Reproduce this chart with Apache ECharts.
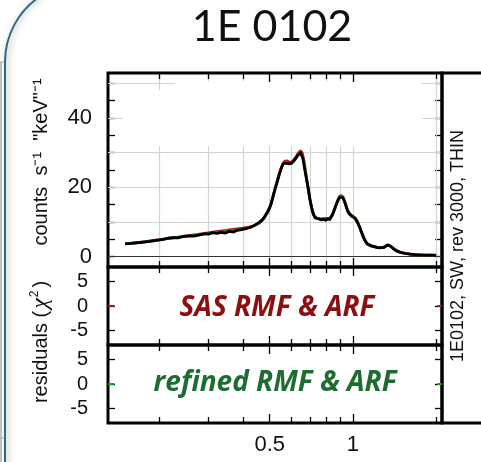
<!DOCTYPE html>
<html>
<head>
<meta charset="utf-8">
<script src="https://cdn.jsdelivr.net/npm/echarts@6/dist/echarts.min.js"></script>
<style>
  html, body { margin: 0; padding: 0; background: #fff; }
  #chart { width: 481px; height: 462px; }
</style>
</head>
<body>
<div id="chart"></div>
<script>
// Observed spectrum of 1E 0102 (counts s^-1 keV^-1 vs energy in keV)
const energy = [
  0.150, 0.158, 0.166, 0.175, 0.184, 0.194, 0.204, 0.214, 0.223, 0.233,
  0.243, 0.255, 0.266, 0.279, 0.292, 0.300, 0.310, 0.322, 0.334, 0.346,
  0.358, 0.370, 0.382, 0.395, 0.410, 0.425, 0.440, 0.452, 0.463, 0.474,
  0.485, 0.495, 0.505, 0.514, 0.523, 0.533, 0.542, 0.551, 0.559, 0.566,
  0.572, 0.578, 0.585, 0.592, 0.600, 0.607, 0.615, 0.623, 0.631, 0.639,
  0.646, 0.652, 0.658, 0.664, 0.670, 0.679, 0.689, 0.699, 0.709, 0.719,
  0.730, 0.742, 0.755, 0.768, 0.782, 0.796, 0.810, 0.824, 0.838, 0.852,
  0.866, 0.880, 0.895, 0.908, 0.920, 0.932, 0.944, 0.956, 0.968, 0.980,
  0.992, 1.004, 1.017, 1.030, 1.043, 1.056, 1.070, 1.085, 1.100, 1.115,
  1.131, 1.148, 1.166, 1.185, 1.205, 1.226, 1.248, 1.270, 1.292, 1.313,
  1.332, 1.350, 1.368, 1.388, 1.410, 1.440, 1.475, 1.515, 1.560, 1.610,
  1.670, 1.740, 1.820, 1.910, 2.000
];
const counts = [
  3.7, 3.8, 4.0, 4.2, 4.4, 4.7, 4.9, 5.3, 5.5, 5.4,
  5.8, 6.0, 5.9, 6.3, 6.6, 6.5, 6.9, 6.7, 7.0, 6.8,
  7.3, 7.1, 7.6, 7.8, 8.1, 8.4, 9.0, 9.6, 10.2, 10.9,
  12.2, 13.4, 15.0, 17.3, 19.5, 21.7, 23.8, 25.6, 26.8, 27.3,
  27.0, 27.5, 26.8, 26.7, 26.9, 27.3, 27.9, 28.4, 29.2, 29.6,
  29.9, 29.5, 28.6, 26.8, 24.9, 22.5, 19.8, 16.5, 14.1, 12.2,
  11.2, 10.8, 10.9, 10.6, 10.8, 10.5, 10.9, 10.7, 11.6, 13.0,
  14.6, 16.0, 17.2, 17.6, 17.0, 15.9, 14.5, 13.2, 12.4, 12.2,
  11.6, 11.5, 11.1, 10.6, 9.5, 8.6, 7.4, 6.2, 5.1, 4.2,
  3.6, 3.3, 3.1, 2.9, 2.8, 2.6, 2.5, 2.6, 2.6, 2.9,
  3.3, 3.4, 3.0, 2.5, 2.1, 1.6, 1.3, 1.05, 0.85, 0.7,
  0.58, 0.5, 0.45, 0.42, 0.38
];

// Folded models: SAS response files and refined response files
const modelEnergy = [
  0.150, 0.175, 0.200, 0.225, 0.250, 0.275, 0.300, 0.325, 0.350, 0.375,
  0.400, 0.425, 0.450, 0.470, 0.490, 0.505, 0.520, 0.535, 0.550, 0.565,
  0.578, 0.592, 0.606, 0.620, 0.634, 0.646, 0.656, 0.666, 0.680, 0.695,
  0.710, 0.725, 0.745, 0.770, 0.800, 0.825, 0.845, 0.865, 0.885, 0.905,
  0.920, 0.940, 0.960, 0.985, 1.010, 1.035, 1.060, 1.090, 1.120, 1.150,
  1.200, 1.250, 1.300, 1.340, 1.370, 1.410, 1.470, 1.550, 1.650, 1.800,
  2.000
];
const modelSAS = [
  3.75, 4.25, 4.9, 5.5, 5.95, 6.4, 6.85, 7.25, 7.6, 7.95,
  8.25, 8.6, 9.3, 10.5, 12.6, 15.2, 19.0, 22.6, 25.6, 27.4,
  27.6, 27.2, 27.6, 28.6, 29.8, 30.5, 29.8, 27.3, 22.4, 17.6,
  14.0, 11.8, 11.0, 10.9, 11.0, 11.2, 12.4, 14.4, 16.6, 17.6,
  17.2, 15.3, 13.2, 12.0, 11.4, 10.4, 8.3, 5.6, 3.9, 3.2,
  2.8, 2.6, 2.8, 3.4, 3.0, 2.2, 1.4, 0.9, 0.62, 0.47,
  0.39
];
const modelRefined = [
  3.7, 4.2, 4.85, 5.45, 5.85, 6.25, 6.65, 7.0, 7.3, 7.6,
  7.95, 8.45, 9.4, 10.6, 12.7, 15.1, 18.9, 22.3, 25.4, 27.1,
  27.2, 26.8, 27.2, 28.1, 29.3, 29.8, 29.0, 26.9, 22.3, 17.7,
  14.1, 11.7, 10.9, 10.7, 10.7, 10.9, 12.3, 14.4, 16.5, 17.5,
  17.1, 15.2, 13.1, 12.0, 11.3, 10.3, 8.2, 5.5, 3.85, 3.2,
  2.8, 2.55, 2.75, 3.35, 3.0, 2.15, 1.35, 0.88, 0.6, 0.46,
  0.38
];

// Residual zero level, visible at both ends of each residual panel
const residualLeftE = [0.13, 0.137];
const residualRightE = [2.02, 2.1];
const residualZero = 0;

// Axes
const energyMin = 0.13, energyMax = 2.1;
const energyTicks = [0.2, 0.3, 0.4, 0.5, 0.6, 0.7, 0.8, 0.9, 1, 2];
const energyMajorTicks = [0.5, 1];
const energyLabels = [0.5, 1];
const countsMin = -3, countsMax = 53;
const countsTicks = [0, 5, 10, 15, 20, 25, 30, 35, 40, 45, 50];
const countsLabels = [0, 20, 40];
const countsGrid = [10, 20, 30, 40, 50];
const residMin = -8, residMax = 8;
const residTicks = [-5, 0, 5];

const FONT = 'Liberation Sans, Arial, sans-serif';
const pair = (xs, ys) => xs.map((x, i) => [x, ys[i]]);

const grids = [
  { left: 108, top: 73, width: 334, height: 194 },
  { left: 108, top: 267, width: 334, height: 78 },
  { left: 108, top: 345, width: 334, height: 78 }
].map(g => Object.assign(g, { show: true, borderColor: '#000', borderWidth: 3, backgroundColor: 'transparent' }));
const yRanges = [[countsMin, countsMax], [residMin, residMax], [residMin, residMax]];

// one log energy axis per grid; y axes: [left, right] per grid
const xAxes = [];
const yAxes = [];
grids.forEach((g, i) => {
  xAxes.push({
    type: 'log', logBase: 10, gridIndex: i, position: 'bottom',
    min: energyMin, max: energyMax,
    axisLine: { show: false, onZero: false },
    axisTick: { show: false },
    axisLabel: {
      show: i === 2, customValues: energyLabels,
      formatter: v => String(v), fontFamily: FONT, fontSize: 22, color: '#111', margin: 11
    },
    splitLine: { show: false }, minorTick: { show: false }
  });
  const isMain = i === 0;
  ['left', 'right'].forEach(pos => {
    yAxes.push({
      type: 'value', gridIndex: i, position: pos,
      min: yRanges[i][0], max: yRanges[i][1],
      axisLine: { show: false, onZero: false },
      axisTick: { show: true, inside: true, length: 7, customValues: isMain ? countsTicks : residTicks, lineStyle: { color: '#000', width: 1.3 } },
      axisLabel: {
        show: pos === 'left', customValues: isMain ? countsLabels : residTicks,
        fontFamily: FONT, fontSize: isMain ? 22 : 20, color: '#111', margin: isMain ? 16 : 20
      },
      splitLine: { show: false }
    });
  });
});

const series = [
  // light grid lines of the spectrum panel
  {
    type: 'line', xAxisIndex: 0, yAxisIndex: 0, data: [], z: 1, silent: true,
    markLine: {
      z: 1, silent: true, symbol: 'none', animation: false,
      label: { show: false },
      lineStyle: { color: '#d4d4d4', width: 1.2, type: 'solid' },
      data: energyTicks.map(v => ({ xAxis: v }))
        .concat(countsGrid.map(v => ({ yAxis: v })))
    }
  },
  // zero level of the spectrum panel
  {
    type: 'line', xAxisIndex: 0, yAxisIndex: 0, data: [], z: 4, silent: true,
    markLine: {
      z: 4, silent: true, symbol: 'none', animation: false, label: { show: false },
      lineStyle: { color: '#333', width: 1, type: 'solid' },
      data: [{ yAxis: 0 }]
    }
  },
  {
    name: 'SAS model', type: 'line', xAxisIndex: 0, yAxisIndex: 0, z: 5,
    data: pair(modelEnergy, modelSAS), showSymbol: false, smooth: 0.2,
    lineStyle: { color: '#b01818', width: 2.8 }
  },
  {
    name: 'refined model', type: 'line', xAxisIndex: 0, yAxisIndex: 0, z: 6,
    data: pair(modelEnergy, modelRefined), showSymbol: false, smooth: 0.2,
    lineStyle: { color: '#1f9a2a', width: 2.4 }
  },
  {
    name: 'data', type: 'line', xAxisIndex: 0, yAxisIndex: 0, z: 7,
    data: pair(energy, counts), showSymbol: false,
    lineStyle: { color: '#000', width: 2.8, join: 'round' }
  }
];

// energy ticks along the top and bottom edge of every panel (inward segments)
grids.forEach((g, i) => {
  const [lo, hi] = yRanges[i];
  const perPx = (hi - lo) / g.height;
  const segs = [];
  energyTicks.forEach(e => {
    const len = (energyMajorTicks.indexOf(e) >= 0 ? 9 : 6) * perPx;
    segs.push([{ coord: [e, lo] }, { coord: [e, lo + len] }]);
    segs.push([{ coord: [e, hi] }, { coord: [e, hi - len] }]);
  });
  series.push({
    type: 'line', xAxisIndex: i, yAxisIndex: 2 * i, data: [], z: 8, silent: true,
    markLine: {
      z: 8, silent: true, symbol: 'none', animation: false, label: { show: false },
      lineStyle: { color: '#000', width: 1.3, type: 'solid' },
      data: segs
    }
  });
});

// residual zero level in the two lower panels
[[1, 2, '#b01818'], [2, 4, '#1f9a2a']].forEach(([xi, yi, color]) => {
  [residualLeftE, residualRightE].forEach(es => {
    series.push({
      type: 'line', xAxisIndex: xi, yAxisIndex: yi, z: 5,
      data: es.map(e => [e, residualZero]),
      showSymbol: false, silent: true,
      lineStyle: { color: color, width: 2 }
    });
  });
});

const option = {
  animation: false,
  backgroundColor: '#fff',
  grid: grids,
  xAxis: xAxes,
  yAxis: yAxes,
  series: series,
  graphic: { elements: [
    // slide frame on the left edge
    {
      type: 'line', z: 0, silent: true,
      shape: { x1: 1, y1: 62, x2: 1, y2: 470 },
      style: { stroke: '#c4c4c4', lineWidth: 2 }
    },
    {
      type: 'arc', z: 0, silent: true,
      shape: { cx: 84, cy: 62, r: 79, startAngle: Math.PI, endAngle: 4.12, clockwise: true },
      style: { fill: 'none', stroke: '#2e6d80', lineWidth: 2,
               shadowBlur: 6, shadowColor: 'rgba(0,0,0,0.35)', shadowOffsetX: 2 }
    },
    {
      type: 'line', z: 0, silent: true,
      shape: { x1: 5, y1: 62, x2: 5, y2: 470 },
      style: { stroke: '#2e6d80', lineWidth: 2,
               shadowBlur: 6, shadowColor: 'rgba(0,0,0,0.35)', shadowOffsetX: 2 }
    },
    { type: 'line', z: 0, silent: true, shape: { x1: 0, y1: 62, x2: 4, y2: 62 }, style: { stroke: '#aaa', lineWidth: 1 } },
    { type: 'line', z: 0, silent: true, shape: { x1: 0, y1: 438, x2: 4, y2: 438 }, style: { stroke: '#aaa', lineWidth: 1 } },
    // blank area over the upper part of the grid
    {
      type: 'polygon', z: 2, silent: true,
      shape: { points: [[123, 90], [175, 90], [175, 81.5], [422, 81.5], [422, 146], [123, 146]] },
      style: { fill: '#fff' }
    },
    // label column on the right
    {
      type: 'rect', z: 3, silent: true,
      shape: { x: 442, y: 73, width: 60, height: 350 },
      style: { fill: 'none', stroke: '#000', lineWidth: 3 }
    },
    {
      type: 'text', z: 10, silent: true, x: 458, y: 246, rotation: Math.PI / 2,
      style: { text: '1E0102, SW, rev 3000, THIN', font: '18px ' + FONT, fill: '#111',
               align: 'center', verticalAlign: 'middle' }
    },
    // title
    {
      type: 'text', z: 10, silent: true, x: 272, y: 27,
      style: { text: '1E 0102', font: '43px Lato, sans-serif', fill: '#111',
               align: 'center', verticalAlign: 'middle' }
    },
    // axis titles
    {
      type: 'text', z: 10, silent: true, x: 41, y: 162, rotation: Math.PI / 2,
      style: { text: 'counts  s⁻¹  "keV"⁻¹', font: '20px ' + FONT, fill: '#111',
               align: 'center', verticalAlign: 'middle' }
    },
    {
      type: 'text', z: 10, silent: true, x: 41, y: 342, rotation: Math.PI / 2,
      style: {
        text: '{a|residuals (}{c|χ}{s|2}{a|)}',
        align: 'center', verticalAlign: 'middle',
        rich: {
          a: { font: '20px ' + FONT, fill: '#111' },
          c: { font: 'italic 24px "Liberation Serif", serif', fill: '#111', padding: [0, 1, 0, 2] },
          s: { font: '12px ' + FONT, fill: '#111', verticalAlign: 'top', padding: [0, 3, 10, 0] }
        }
      }
    },
    // residual panel captions
    {
      type: 'text', z: 10, silent: true, x: 277, y: 308,
      style: { text: 'SAS RMF & ARF', font: 'italic bold 28px "Open Sans", sans-serif', fill: '#8a1010',
               align: 'center', verticalAlign: 'middle' }
    },
    {
      type: 'text', z: 10, silent: true, x: 275, y: 383,
      style: { text: 'refined RMF & ARF', font: 'italic bold 28px "Open Sans", sans-serif', fill: '#1c6e30',
               align: 'center', verticalAlign: 'middle' }
    }
  ] }
};

const chart = echarts.init(document.getElementById('chart'), null, { renderer: 'canvas' });
chart.setOption(option);
</script>
</body>
</html>
